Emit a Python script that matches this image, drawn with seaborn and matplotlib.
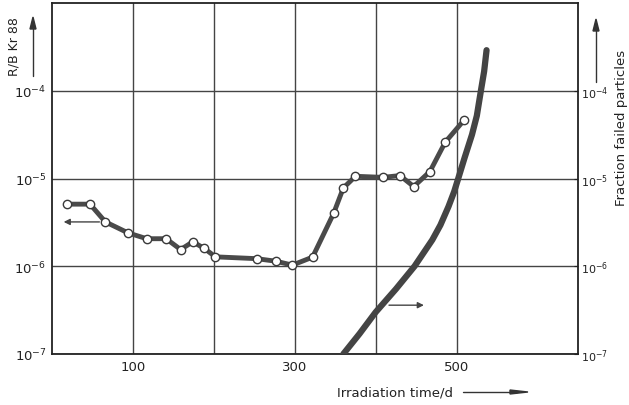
import numpy as np
import pandas as pd
import seaborn as sns
import matplotlib.pyplot as plt
import matplotlib.ticker as ticker

# R/B Kr 88 measurements (left axis)
rb_days = [19, 47, 66, 94, 117, 141, 159, 174, 188, 202, 253, 277, 297,
           322, 348, 360, 375, 409, 430, 447, 467, 486, 509]
rb_vals = [5.1e-6, 5.1e-6, 3.2e-6, 2.4e-6, 2.06e-6, 2.06e-6, 1.55e-6, 1.9e-6,
           1.6e-6, 1.28e-6, 1.22e-6, 1.14e-6, 1.03e-6, 1.27e-6, 4.0e-6,
           7.8e-6, 1.06e-5, 1.03e-5, 1.08e-5, 8.1e-6, 1.2e-5, 2.6e-5, 4.6e-5]

# Fraction of failed particles (right axis)
fail_days = [360, 380, 400, 425, 448, 470, 480, 490, 497, 502, 510, 519,
             525, 530, 534, 537]
fail_vals = [1.0e-7, 1.7e-7, 3.0e-7, 5.5e-7, 1.0e-6, 2.0e-6, 2.95e-6, 4.8e-6,
             7.1e-6, 1.0e-5, 1.74e-5, 3.16e-5, 5.2e-5, 1.0e-4, 1.66e-4, 2.9e-4]

grid_x = [100, 200, 300, 400, 500]
x_labels = ['100', '', '300', '', '500']
y_ticks = [1e-7, 1e-6, 1e-5, 1e-4]

sns.set_style('white')
plt.rcParams['font.family'] = ['DejaVu Sans']
plt.rcParams['mathtext.default'] = 'regular'

rb = pd.DataFrame({'day': rb_days, 'val': rb_vals})
fail = pd.DataFrame({'day': fail_days, 'val': fail_vals})

fig = plt.figure(figsize=(6.29, 4.06), dpi=100)
ax = fig.add_axes([52 / 629, 1 - 355 / 406, 526 / 629, 351 / 406])

sns.lineplot(data=rb, x='day', y='val', ax=ax, color='#4a4a4a', lw=3.5,
             marker='o', markersize=6, markerfacecolor='white',
             markeredgecolor='#3a3a3a', markeredgewidth=1.0, zorder=4)

ax.set_yscale('log')
ax.set_xlim(0, 650)
ax.set_ylim(1e-7, 1e-3)

ax.set_xticks(grid_x)
ax.set_xticklabels(x_labels)
ax.set_yticks(y_ticks)
ax.yaxis.set_major_formatter(ticker.FuncFormatter(
    lambda v, p: '10$^{%d}$' % round(np.log10(v))))
ax.yaxis.set_minor_locator(ticker.NullLocator())
ax.grid(True, color='#444444', lw=1.0)
ax.tick_params(axis='both', length=0, labelsize=9.5, colors='#222222', pad=4)
ax.set_xlabel('')
ax.set_ylabel('')
for s in ax.spines.values():
    s.set_color('#222222')
    s.set_linewidth(1.3)

ax2 = ax.twinx()
sns.lineplot(data=fail, x='day', y='val', ax=ax2, color='#444444', lw=4.5)
ax2.set_yscale('log')
ax2.set_ylim(1e-7, 1e-3)
ax2.set_yticks(y_ticks)
ax2.yaxis.set_major_formatter(ticker.FuncFormatter(
    lambda v, p: '10$^{%d}$' % round(np.log10(v))))
ax2.yaxis.set_minor_locator(ticker.NullLocator())
ax2.tick_params(axis='y', length=3, direction='in', labelsize=8, colors='#222222', pad=2)
ax2.set_ylabel('')
for s in ax2.spines.values():
    s.set_visible(False)

# arrows pointing to the axis each curve belongs to
ax.annotate('', xy=(11, 3.2e-6), xytext=(62, 3.2e-6),
            arrowprops=dict(arrowstyle='-|>', color='#444444', lw=1.0,
                            mutation_scale=9))
ax.annotate('', xy=(463, 3.6e-7), xytext=(413, 3.6e-7),
            arrowprops=dict(arrowstyle='-|>', color='#444444', lw=1.0,
                            mutation_scale=9))

# axis titles with arrows
fig.text(14 / 629, 1 - 47 / 406, 'R/B Kr 88', rotation=90, ha='center',
         va='center', fontsize=9, color='#222222')
fig.add_artist(plt.Line2D([33 / 629, 33 / 629], [1 - 77 / 406, 1 - 26 / 406],
                          color='#333333', lw=1.0))
fig.patches.append(plt.Polygon([[30 / 629, 1 - 30 / 406], [36 / 629, 1 - 30 / 406],
                                [33 / 629, 1 - 18 / 406]], closed=True,
                               transform=fig.transFigure, color='#333333'))

fig.text(622 / 629, 1 - 128 / 406, 'Fraction failed particles', rotation=90,
         ha='center', va='center', fontsize=9.5, color='#222222')
fig.add_artist(plt.Line2D([596 / 629, 596 / 629], [1 - 83 / 406, 1 - 26 / 406],
                          color='#333333', lw=1.0))
fig.patches.append(plt.Polygon([[593 / 629, 1 - 32 / 406], [599 / 629, 1 - 32 / 406],
                                [596 / 629, 1 - 20 / 406]], closed=True,
                               transform=fig.transFigure, color='#333333'))

fig.text(395 / 629, 1 - 393 / 406, 'Irradiation time/d', ha='center',
         va='center', fontsize=9.5, color='#222222')
fig.add_artist(plt.Line2D([463 / 629, 517 / 629], [1 - 393 / 406, 1 - 393 / 406],
                          color='#333333', lw=1.0))
fig.patches.append(plt.Polygon([[510 / 629, 1 - 391 / 406], [510 / 629, 1 - 395 / 406],
                                [528 / 629, 1 - 393 / 406]], closed=True,
                               transform=fig.transFigure, color='#333333'))

fig.savefig('out.png', dpi=100)
